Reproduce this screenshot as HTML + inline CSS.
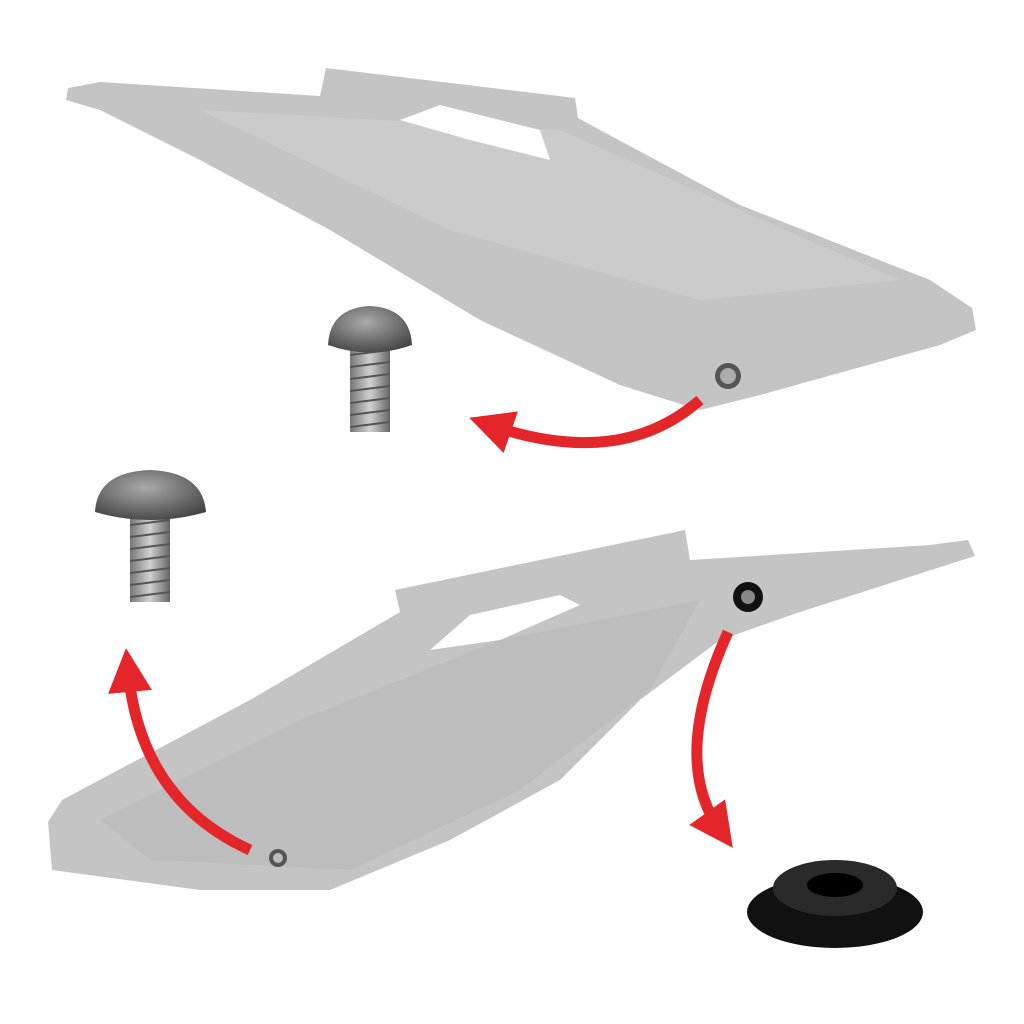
<!DOCTYPE html>
<html><head><meta charset="utf-8"><style>html,body{margin:0;padding:0;background:#fff}svg{display:block}</style></head>
<body>
<svg width="1024" height="1024" viewBox="0 0 1024 1024" xmlns="http://www.w3.org/2000/svg">
<defs>
<marker id="ah" markerWidth="4" markerHeight="4" refX="2" refY="2" orient="auto" markerUnits="strokeWidth">
<path d="M0,0 L4,2 L0,4 Z" fill="#e4262a"/></marker>
<linearGradient id="sh" x1="0" x2="1"><stop offset="0" stop-color="#777"/><stop offset="0.5" stop-color="#d0d0d0"/><stop offset="1" stop-color="#666"/></linearGradient>
<radialGradient id="hd" cx="0.45" cy="0.35" r="0.7"><stop offset="0" stop-color="#aaa"/><stop offset="1" stop-color="#444"/></radialGradient>
</defs>
<!-- top panel -->
<path d="M68,88 L100,82 L320,96 L326,68 L575,98 L578,118 L600,130 L740,205 L930,280 L972,308 L976,330 L940,345 L760,395 L700,410 L620,385 L480,320 L330,230 L200,160 L100,110 L66,100 Z" fill="#c4c4c4"/>
<path d="M200,110 L560,130 L740,210 L900,280 L700,300 L450,230 Z" fill="#cbcbcb"/>
<path d="M400,120 L440,105 L540,130 L550,160 L470,140 Z" fill="#fff"/>
<circle cx="728" cy="376" r="13" fill="#555"/><circle cx="728" cy="376" r="8" fill="#aaa"/>
<!-- bottom panel -->
<path d="M48,822 L62,800 L250,700 L400,612 L395,590 L685,530 L690,560 L930,545 L968,540 L975,556 L800,612 L720,640 L640,700 L560,780 L450,840 L330,890 L200,890 L52,870 Z" fill="#c4c4c4"/>
<path d="M100,820 L300,720 L500,640 L700,600 L650,690 L520,790 L350,870 L150,860 Z" fill="#bdbdbd"/>
<path d="M430,650 L470,615 L560,595 L580,605 L500,640 Z" fill="#fff"/>
<circle cx="748" cy="597" r="15" fill="#111"/><circle cx="748" cy="597" r="7" fill="#888"/>
<circle cx="278" cy="858" r="9" fill="#555"/><circle cx="278" cy="858" r="5" fill="#bbb"/>
<!-- screw 1 -->
<rect x="350" y="340" width="40" height="92" fill="url(#sh)"/>
<g stroke="#555" stroke-width="2">
<line x1="350" y1="355" x2="390" y2="350"/><line x1="350" y1="367" x2="390" y2="362"/><line x1="350" y1="379" x2="390" y2="374"/><line x1="350" y1="391" x2="390" y2="386"/><line x1="350" y1="403" x2="390" y2="398"/><line x1="350" y1="415" x2="390" y2="410"/><line x1="350" y1="427" x2="390" y2="422"/></g>
<path d="M328,345 Q330,308 370,306 Q410,308 412,345 Q370,360 328,345 Z" fill="url(#hd)"/>
<!-- screw 2 -->
<rect x="130" y="510" width="40" height="92" fill="url(#sh)"/>
<g stroke="#555" stroke-width="2">
<line x1="130" y1="525" x2="170" y2="520"/><line x1="130" y1="537" x2="170" y2="532"/><line x1="130" y1="549" x2="170" y2="544"/><line x1="130" y1="561" x2="170" y2="556"/><line x1="130" y1="573" x2="170" y2="568"/><line x1="130" y1="585" x2="170" y2="580"/><line x1="130" y1="597" x2="170" y2="592"/></g>
<path d="M95,512 Q97,472 150,470 Q203,472 206,512 Q150,528 95,512 Z" fill="url(#hd)"/>
<!-- grommet -->
<ellipse cx="835" cy="912" rx="88" ry="36" fill="#111"/>
<ellipse cx="835" cy="888" rx="62" ry="28" fill="#2a2a2a"/>
<ellipse cx="835" cy="885" rx="28" ry="12" fill="#000"/>
<!-- arrows -->
<path d="M700,400 Q620,470 490,425" fill="none" stroke="#e4262a" stroke-width="11" marker-end="url(#ah)"/>
<path d="M250,850 Q140,800 128,670" fill="none" stroke="#e4262a" stroke-width="11" marker-end="url(#ah)"/>
<path d="M728,632 Q670,760 720,830" fill="none" stroke="#e4262a" stroke-width="11" marker-end="url(#ah)"/>
</svg>
</body></html>
